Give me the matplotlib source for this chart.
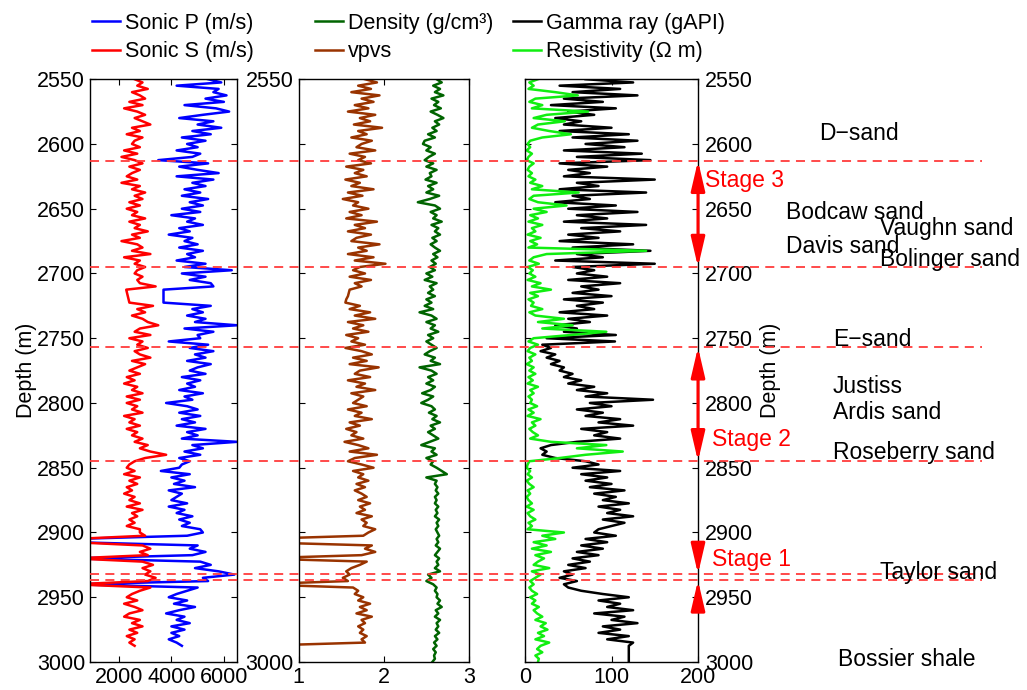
import matplotlib.pyplot as plt
import numpy as np
from matplotlib.lines import Line2D
from matplotlib.transforms import blended_transform_factory

plt.rcParams['font.family'] = ['Liberation Sans', 'DejaVu Sans']

# depth sampling (m): sonic / vpvs logs stop at 2987.5, the rest run to 3000
depth_sonic = np.arange(2550, 2987.6, 2.5)
depth_full = np.arange(2550, 3000.1, 2.5)

sonic_s = [
    2600, 2900, 2700, 3100, 2500, 2800, 3000, 2400, 2900, 2200,
    2700, 3000, 2600, 2900, 3200, 2500, 2800, 2300, 2900, 2600,
    2500, 2800, 2200, 2700, 2100, 2600, 2900, 2400, 2800, 2500,
    2300, 2700, 2100, 2800, 2500, 3000, 2600, 2900, 2400, 2800,
    2300, 2700, 2500, 3000, 2400, 2800, 2600, 3100, 2500, 2800,
    2100, 2700, 2900, 2500, 3200, 2200, 2800, 2600, 3000, 2700,
    2600, 2900, 2700, 2800, 3400, 2280, 2310, 2340, 2370, 2400,
    3300, 2700, 3000, 2500, 2900, 3100, 3500, 2800, 2600, 3200,
    2400, 2900, 2700, 3100, 2600, 2800, 3200, 2500, 3000, 2700,
    2400, 2800, 2300, 2600, 2200, 2700, 2500, 2900, 2300, 2800,
    2300, 2700, 2500, 2900, 2200, 2600, 2400, 2800, 2300, 2700,
    2500, 2900, 2600, 3100, 2800, 3200, 3800, 3000, 2600, 2400,
    2300, 2600, 2200, 2800, 2400, 2700, 2300, 2500, 2200, 2600,
    2400, 2800, 2300, 2900, 2500, 2700, 2400, 2600, 2300, 2800,
    2800, 3000, 300, 300, 2900, 3200, 2800, 3100, 300, 2900,
    3300, 2900, 3200, 3000, 3400, 3100, 300, 3200, 2800, 2500,
    2300, 2700, 2200, 2600, 2900, 2400, 2200, 2800, 2500, 2900,
    2400, 2700, 2300, 2600, 2400, 2600,
]

sonic_p = [
    5400, 5900, 4200, 5800, 5600, 6100, 5300, 6000, 4500, 5700,
    6200, 5200, 4300, 5600, 5000, 5900, 4800, 5500, 4400, 5300,
    4600, 5000, 4200, 5100, 4800, 3500, 5400, 4300, 5000, 5800,
    4200, 5600, 4800, 5300, 4500, 5100, 4400, 5400, 4700, 5200,
    4400, 5100, 4000, 4900, 4600, 5200, 4300, 4700, 3900, 4800,
    4500, 5000, 4300, 5200, 4600, 4900, 4200, 5300, 4500, 6300,
    4400, 5300, 4700, 5500, 5600, 3700, 3700, 3700, 3700, 3700,
    5500, 4800, 5200, 4600, 5300, 4900, 6500, 4500, 5600, 5000,
    5100, 3900, 5400, 4700, 5600, 4900, 5300, 4600, 5500, 5000,
    4700, 5300, 4400, 5100, 4600, 4900, 4300, 5200, 4500, 4800,
    3800, 4600, 5000, 4300, 5100, 4400, 4900, 4200, 5300, 4600,
    5000, 4400, 6500, 4800, 5200, 4500, 5100, 4300, 4700, 4400,
    4300, 3600, 4700, 4000, 4500, 4100, 4900, 3900, 4400, 4200,
    4000, 4600, 3900, 4500, 4200, 4800, 4300, 4700, 4400, 5100,
    5200, 4600, 300, 300, 5000, 4700, 5300, 4800, 300, 5100,
    5500, 4900, 5800, 6400, 5200, 5400, 300, 5000, 4600, 4200,
    3900, 4600, 4100, 4900, 4300, 3800, 4500, 4200, 4700, 4000,
    4500, 4000, 4300, 3900, 4200, 4400,
]

vpvs = [
    1.78, 1.92, 1.70, 1.85, 1.62, 1.95, 1.74, 1.88, 1.66, 1.82,
    1.58, 1.90, 1.72, 1.84, 1.65, 1.98, 1.70, 1.80, 1.62, 1.86,
    1.74, 1.68, 1.90, 1.60, 1.78, 1.70, 1.85, 1.56, 1.76, 1.66,
    1.80, 1.55, 1.72, 1.62, 1.88, 1.58, 1.75, 1.52, 1.70, 1.64,
    1.82, 1.60, 1.74, 1.56, 1.92, 1.66, 1.78, 1.58, 1.85, 1.68,
    1.62, 1.95, 1.70, 1.80, 1.58, 1.88, 1.66, 2.02, 1.72, 1.64,
    1.78, 1.60, 1.85, 1.66, 1.74, 1.60, 1.59, 1.58, 1.56, 1.55,
    1.72, 1.60, 1.84, 1.66, 1.90, 1.58, 1.76, 1.64, 1.82, 1.56,
    1.70, 1.62, 1.78, 1.55, 1.74, 1.86, 1.64, 1.80, 1.60, 1.94,
    1.72, 1.66, 1.84, 1.58, 1.78, 1.68, 1.90, 1.62, 1.76, 1.70,
    1.64, 1.80, 1.58, 1.74, 1.66, 1.86, 1.60, 1.72, 1.56, 1.68,
    1.62, 1.76, 1.54, 1.70, 1.82, 1.60, 1.92, 1.66, 1.58, 1.74,
    1.88, 1.64, 1.76, 1.70, 1.82, 1.68, 1.78, 1.66, 1.74, 1.80,
    1.70, 1.84, 1.72, 1.78, 1.68, 1.86, 1.74, 1.80, 1.76, 1.90,
    1.82, 1.76, 0.50, 0.50, 1.86, 1.78, 1.90, 1.74, 0.50, 1.80,
    1.72, 1.62, 1.56, 1.60, 1.52, 1.58, 0.50, 1.64, 1.70, 1.66,
    1.76, 1.70, 1.84, 1.72, 1.80, 1.68, 1.86, 1.74, 1.78, 1.70,
    1.76, 1.72, 1.80, 1.74, 1.78, 0.50,
]

density = [
    2.62, 2.68, 2.58, 2.66, 2.60, 2.70, 2.56, 2.64, 2.59, 2.67,
    2.55, 2.63, 2.70, 2.60, 2.65, 2.57, 2.62, 2.52, 2.60, 2.48,
    2.46, 2.55, 2.50, 2.60, 2.53, 2.48, 2.58, 2.50, 2.62, 2.54,
    2.56, 2.49, 2.62, 2.52, 2.58, 2.50, 2.65, 2.54, 2.40, 2.60,
    2.66, 2.55, 2.62, 2.58, 2.68, 2.56, 2.64, 2.60, 2.66, 2.57,
    2.62, 2.55, 2.60, 2.66, 2.58, 2.63, 2.56, 2.61, 2.54, 2.60,
    2.50, 2.57, 2.48, 2.62, 2.54, 2.58, 2.52, 2.60, 2.50, 2.56,
    2.48, 2.58, 2.42, 2.56, 2.62, 2.50, 2.60, 2.55, 2.64, 2.52,
    2.58, 2.50, 2.56, 2.62, 2.54, 2.48, 2.60, 2.55, 2.66, 2.42,
    2.56, 2.62, 2.52, 2.58, 2.50, 2.60, 2.55, 2.45, 2.58, 2.52,
    2.44, 2.56, 2.60, 2.53, 2.62, 2.57, 2.66, 2.55, 2.60, 2.52,
    2.58, 2.64, 2.54, 2.44, 2.60, 2.56, 2.62, 2.50, 2.58, 2.55,
    2.62, 2.68, 2.74, 2.50, 2.62, 2.60, 2.63, 2.61, 2.64, 2.60,
    2.62, 2.60, 2.64, 2.61, 2.63, 2.60, 2.65, 2.62, 2.64, 2.61,
    2.63, 2.65, 2.62, 2.64, 2.61, 2.66, 2.63, 2.60, 2.65, 2.62,
    2.64, 2.60, 2.66, 2.52, 2.56, 2.50, 2.58, 2.62, 2.60, 2.63,
    2.62, 2.66, 2.63, 2.68, 2.61, 2.64, 2.60, 2.66, 2.62, 2.64,
    2.61, 2.65, 2.60, 2.63, 2.59, 2.62, 2.58, 2.61, 2.59, 2.60,
    2.57,
]

gamma = [
    70, 125, 40, 110, 55, 130, 45, 90, 30, 105,
    50, 80, 35, 65, 45, 100, 40, 120, 55, 130,
    70, 115, 45, 135, 60, 145, 40, 95, 50, 75,
    45, 150, 60, 85, 40, 140, 55, 75, 35, 105,
    50, 130, 60, 95, 45, 140, 65, 110, 50, 85,
    40, 125, 55, 145, 60, 90, 35, 150, 55, 80,
    60, 95, 50, 110, 65, 85, 55, 100, 45, 90,
    60, 80, 40, 95, 50, 75, 35, 60, 45, 105,
    25, 104, 20, 30, 18, 35, 25, 40, 30, 45,
    40, 55, 45, 65, 50, 80, 60, 95, 70, 148,
    75, 100, 60, 90, 70, 110, 85, 125, 65, 95,
    80, 110, 60, 30, 18, 25, 20, 35, 70, 85,
    55, 110, 65, 95, 70, 100, 75, 115, 80, 105,
    90, 120, 85, 110, 95, 125, 90, 115, 100, 85,
    80, 105, 70, 95, 65, 90, 60, 85, 55, 75,
    50, 70, 45, 55, 40, 60, 45, 50, 65, 90,
    120, 85, 110, 95, 125, 80, 115, 100, 130, 90,
    110, 85, 120, 95, 125, 120, 120, 120, 120, 120,
    120,
]

resistivity = [
    15, 5, 10, 4, 35, 61, 12, 5, 20, 8,
    73, 25, 10, 46, 15, 8, 28, 53, 20, 6,
    3, 6, 2, 8, 4, 2, 10, 5, 3, 8,
    4, 12, 6, 20, 8, 62, 10, 5, 15, 48,
    10, 25, 6, 15, 4, 20, 8, 12, 3, 18,
    6, 14, 4, 140, 25, 10, 5, 16, 3, 9,
    5, 12, 3, 18, 8, 30, 6, 15, 4, 10,
    7, 20, 5, 12, 45, 15, 55, 20, 94, 53,
    10, 4, 15, 6, 3, 12, 5, 8, 2, 10,
    5, 12, 4, 9, 3, 15, 6, 10, 4, 8,
    6, 14, 4, 10, 3, 18, 8, 12, 5, 9,
    15, 6, 30, 94, 60, 113, 70, 40, 5, 3,
    2, 6, 3, 8, 2, 5, 10, 3, 6, 2,
    4, 8, 2, 10, 3, 6, 12, 4, 8, 3,
    45, 20, 35, 10, 25, 8, 30, 12, 22, 15,
    10, 28, 8, 18, 12, 6, 10, 5, 8, 14,
    6, 12, 8, 16, 10, 14, 20, 12, 24, 18,
    26, 15, 22, 12, 28, 18, 14, 20, 12, 16,
    15,
]

# stage boundaries (m)
boundaries = [2613, 2695, 2757, 2845, 2932, 2937]
stage_names = ['Stage 3', 'Stage 2', 'Stage 1']
stage_label_depth = [2628, 2828, 2921]

formations = ['D\u2212sand', 'Bodcaw sand', 'Vaughn sand', 'Davis sand', 'Bolinger sand',
              'E\u2212sand', 'Justiss', 'Ardis sand', 'Roseberry sand', 'Taylor sand',
              'Bossier shale']
formation_depth = [2592, 2653, 2665, 2679.5, 2689.5, 2751, 2787.5, 2807.5, 2838.5, 2931, 2998]
formation_x = [819, 786, 880, 786, 880, 833, 833, 833, 833, 880, 838]

W, H = 1027, 690
fig = plt.figure(figsize=(W / 100, H / 100), dpi=100)


def box(left, top, right, bottom):
    return [left / W, 1 - bottom / H, (right - left) / W, (bottom - top) / H]


ax1 = fig.add_axes(box(90, 79.2, 237, 662))
ax2 = fig.add_axes(box(298.5, 79.2, 469, 662))
ax3 = fig.add_axes(box(525, 79.2, 698, 662))

fs = 15.5
lw = 1.8

lp, = ax1.plot(sonic_p, depth_sonic, color='#0000ff', lw=lw, label='Sonic P (m/s)')
ls, = ax1.plot(sonic_s, depth_sonic, color='#ff0000', lw=lw, label='Sonic S (m/s)')
ld, = ax2.plot(density, depth_full, color='#006400', lw=lw, label='Density (g/cm\u00b3)')
lv, = ax2.plot(vpvs, depth_sonic, color='#993300', lw=lw, label='vpvs')
lg, = ax3.plot(gamma, depth_full, color='black', lw=lw, label='Gamma ray (gAPI)')
lr, = ax3.plot(resistivity, depth_full, color='#11ee11', lw=lw, label='Resistivity (\u03a9 m)')

depth_ticks = np.arange(2550, 3001, 50)
for ax in (ax1, ax2, ax3):
    ax.set_ylim(3000, 2550)
    ax.set_yticks(depth_ticks)
    ax.tick_params(direction='in', top=True, right=True, length=4, width=0.8,
                   labelsize=fs, colors='black')
    for sp in ax.spines.values():
        sp.set_linewidth(1.0)

ax1.set_xlim(900, 6500)
ax1.set_xticks([2000, 4000, 6000])
ax1.set_ylabel('Depth (m)', fontsize=fs, labelpad=0)

ax2.set_xlim(1, 3)
ax2.set_xticks([1, 2, 3])
ax2.set_yticklabels(['2550'] + [''] * 8 + ['3000'])

ax3.set_xlim(0, 200)
ax3.set_xticks([0, 100, 200])
ax3.tick_params(axis='y', labelleft=False, labelright=True, pad=5)
ax3.yaxis.set_label_position('right')
ax3.set_ylabel('Depth (m)', fontsize=fs, labelpad=5)

legend_kw = dict(loc='upper left', bbox_transform=fig.transFigure, frameon=False,
                 fontsize=fs, handlelength=1.3, handletextpad=0.22, borderpad=0,
                 borderaxespad=0, labelspacing=0.34)
ax1.legend(handles=[lp, ls], bbox_to_anchor=(92 / W, 1 - 13 / H), **legend_kw)
ax2.legend(handles=[ld, lv], bbox_to_anchor=(315 / W, 1 - 13 / H), **legend_kw)
ax3.legend(handles=[lg, lr], bbox_to_anchor=(513 / W, 1 - 13 / H), **legend_kw)

# dashed stage boundaries across all tracks
trans = blended_transform_factory(fig.transFigure, ax1.transData)
for d in boundaries:
    fig.add_artist(Line2D([90 / W, 982 / W], [d, d], transform=trans,
                          color='#ff3b3b', lw=1.3, dashes=(5, 3.5)))

# stage arrows on the right edge of the gamma track
arrow_tr = ax3.get_yaxis_transform()
head = dict(color='red', lw=2.2, shrinkA=0, shrinkB=0, clip_on=False, mutation_scale=10)
both = '<|-|>,head_length=1.8,head_width=0.42'
one = '-|>,head_length=1.8,head_width=0.42'
ax3.annotate('', xy=(1, boundaries[0]), xytext=(1, boundaries[1]), xycoords=arrow_tr,
             textcoords=arrow_tr, annotation_clip=False, arrowprops=dict(arrowstyle=both, **head))
ax3.annotate('', xy=(1, boundaries[2]), xytext=(1, boundaries[3]), xycoords=arrow_tr,
             textcoords=arrow_tr, annotation_clip=False, arrowprops=dict(arrowstyle=both, **head))
ax3.annotate('', xy=(1, boundaries[4]), xytext=(1, boundaries[4] - 19), xycoords=arrow_tr,
             textcoords=arrow_tr, annotation_clip=False, arrowprops=dict(arrowstyle=one, **head))
ax3.annotate('', xy=(1, boundaries[5]), xytext=(1, boundaries[5] + 19), xycoords=arrow_tr,
             textcoords=arrow_tr, annotation_clip=False, arrowprops=dict(arrowstyle=one, **head))

text_tr = blended_transform_factory(fig.transFigure, ax3.transData)
for name, d, x in zip(stage_names, stage_label_depth, [705, 712, 712]):
    fig.text(x / W, d, name, transform=text_tr, color='red', fontsize=16.5,
             va='center', ha='left')

for name, d, x in zip(formations, formation_depth, formation_x):
    fig.text(x / W, d, name, transform=text_tr, color='black', fontsize=16.5,
             va='center', ha='left')

fig.savefig('out.png', dpi=100)
